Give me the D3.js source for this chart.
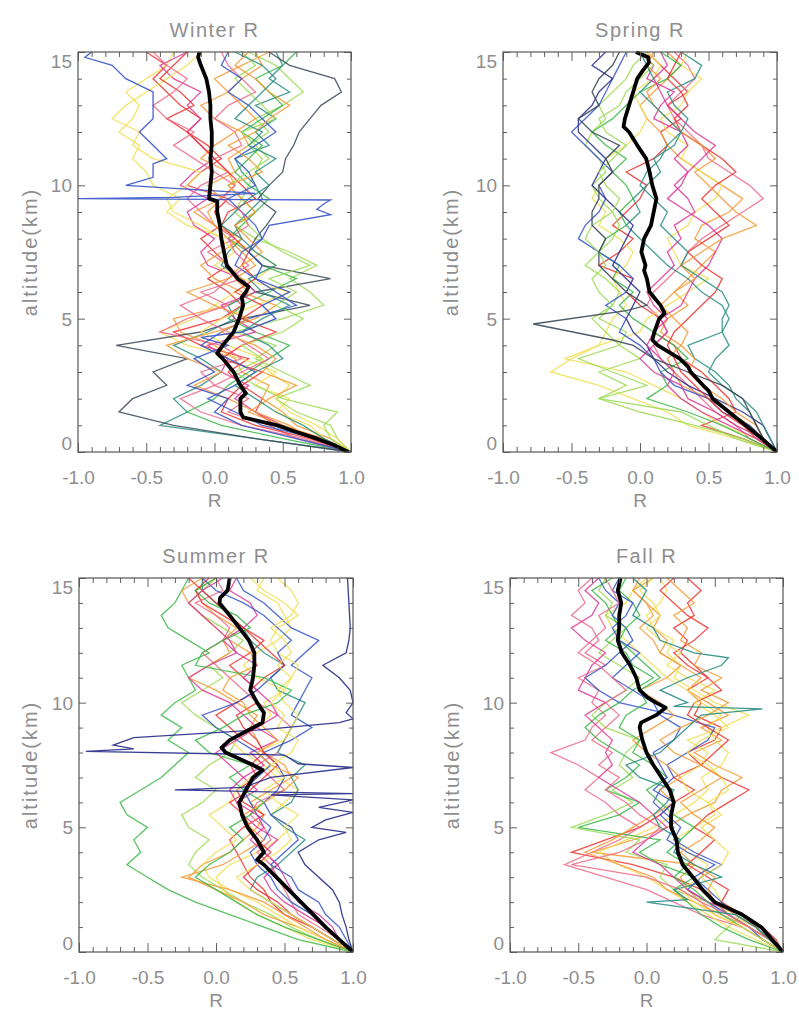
<!DOCTYPE html>
<html>
<head>
<meta charset="utf-8">
<script src="https://cdn.jsdelivr.net/npm/d3@7"></script>
<style>
body { margin: 0; background: #fff; }
</style>
</head>
<body>
<script>
// altitude grid (km) shared by the thin profiles
var alts = [0,0.5,1,1.5,2,2.5,3,3.5,4,4.5,5,5.5,6,6.5,7,7.5,8,8.5,9,9.5,10,10.5,11,11.5,12,12.5,13,13.5,14,14.5,15];

var xTicks = [-1.0, -0.5, 0.0, 0.5, 1.0];
var xMinor = [-0.9,-0.8,-0.7,-0.6,-0.4,-0.3,-0.2,-0.1,0.1,0.2,0.3,0.4,0.6,0.7,0.8,0.9];
var yTicks = [0, 5, 10, 15];
var yMinor = [1,2,3,4,6,7,8,9,11,12,13,14];

var titles = ["Winter R", "Spring R", "Summer R", "Fall R"];

//red, orange, yellow, light-green, green, teal, blue, navy, magenta, pink, slate
var palette = {red:"#ec3530", orange:"#f59a36", yellow:"#f1df55", lgreen:"#9edc56", green:"#3cb848",
               teal:"#2a8f84", blue:"#3553c8", navy:"#262a88", magenta:"#dc3a96", pink:"#ef6a8a", slate:"#3a4858"};

// ---- Winter ----
var winterColors = ["red","orange","yellow","lgreen","green","teal","slate","magenta","pink","orange","yellow","red","lgreen","blue","pink","orange","teal"];
var winterLines = [
  [1.0,0.8,0.45,0.3,0.35,0.2,0.1,0.25,-0.1,-0.3,0.05,0.2,0.1,-0.05,0.1,0.0,-0.1,0.05,0.0,0.1,-0.2,-0.1,0.05,-0.05,-0.2,-0.1,-0.25,-0.35,-0.45,-0.35,-0.5],
  [1.0,0.85,0.6,0.5,0.35,0.4,0.2,0.15,0.0,-0.25,-0.3,0.1,0.25,0.15,0.3,0.2,0.1,0.0,-0.05,0.05,-0.05,0.15,0.1,0.25,0.2,0.0,-0.1,0.1,0.2,0.35,0.3],
  [1.0,0.8,0.7,0.45,0.55,0.3,0.45,0.2,-0.2,-0.4,-0.15,0.0,0.15,0.3,0.45,0.3,0.1,-0.2,-0.35,-0.25,-0.45,-0.5,-0.6,-0.55,-0.7,-0.6,-0.55,-0.65,-0.5,-0.35,-0.3],
  [1.0,0.9,0.85,0.6,0.45,0.7,0.5,0.3,0.45,0.15,0.5,0.8,0.7,0.55,0.75,0.55,0.3,0.15,0.3,0.2,0.25,0.3,0.35,0.25,0.4,0.3,0.5,0.65,0.55,0.45,0.25],
  [1.0,0.5,0.05,-0.2,0.0,0.1,0.25,0.4,0.55,0.3,0.1,0.2,0.4,0.6,0.35,0.25,0.1,0.2,0.3,0.4,0.25,0.15,0.25,0.35,0.2,0.35,0.5,0.4,0.3,0.5,0.6],
  [1.0,0.3,-0.4,-0.2,-0.3,-0.1,0.05,-0.1,-0.3,-0.05,0.15,0.1,0.3,0.2,0.05,0.1,0.2,0.15,0.25,0.35,0.3,0.2,0.15,0.4,0.3,0.45,0.3,0.55,0.4,0.5,0.45],
  [1.0,0.3,-0.3,-0.7,-0.6,-0.35,-0.45,-0.2,-0.72,-0.1,0.2,0.7,0.3,0.85,0.35,0.25,0.3,0.38,0.45,0.32,0.4,0.5,0.52,0.58,0.62,0.7,0.78,0.93,0.88,0.55,0.4],
  [1.0,0.75,0.5,0.3,0.15,0.25,0.05,0.1,-0.05,0.3,0.15,0.05,0.3,0.2,-0.05,-0.1,0.0,-0.15,-0.2,-0.05,-0.25,-0.15,0.0,-0.1,-0.2,-0.1,-0.2,-0.1,-0.3,-0.4,-0.2],
  [1.0,0.6,0.4,0.1,0.25,0.0,-0.1,0.2,0.05,-0.4,-0.2,0.1,-0.1,0.2,0.1,-0.05,0.15,0.0,-0.1,-0.2,-0.1,0.1,0.0,0.2,0.15,0.0,0.1,0.3,0.2,0.1,0.05],
  [1.0,0.7,0.55,0.3,0.1,-0.15,0.05,-0.2,-0.35,0.0,0.3,0.45,0.2,0.0,-0.1,0.05,0.2,0.0,-0.15,0.05,0.15,0.1,-0.1,0.0,0.15,0.3,0.2,0.1,0.0,0.2,0.4],
  [1.0,0.9,0.75,0.55,0.45,0.55,0.4,0.35,0.1,-0.1,0.05,0.3,0.55,0.2,0.0,0.15,0.05,-0.1,-0.3,-0.35,-0.2,-0.1,-0.45,-0.6,-0.55,-0.75,-0.65,-0.5,-0.35,-0.2,-0.1],
  [1.0,0.7,0.3,0.05,0.1,0.2,0.35,0.05,0.2,0.45,0.2,0.35,0.15,0.3,0.2,0.25,0.15,0.05,0.1,0.3,0.2,0.1,0.0,-0.1,-0.2,-0.35,-0.15,-0.25,-0.4,-0.3,-0.2],
  [1.0,0.85,0.8,0.9,0.5,0.3,0.15,0.35,0.2,0.5,0.65,0.45,0.6,0.4,0.7,0.5,0.35,0.25,0.15,0.2,0.1,0.25,0.4,0.3,0.2,0.45,0.35,0.25,0.15,0.3,0.2],
  [1.0,0.75,0.35,0.15,-0.05,0.15,0.3,0.1,-0.1,0.05,0.25,0.6,0.45,0.3,0.15,0.2,0.35,0.3,0.2,0.1,0.3,0.25,0.15,0.3,0.45,0.35,0.25,0.1,0.2,0.05,0.1],
  [1.0,0.65,0.2,-0.1,-0.25,0.0,0.2,0.4,0.25,0.1,-0.1,-0.25,0.0,0.1,0.25,0.15,0.1,0.25,0.2,0.05,0.15,0.0,-0.15,-0.3,-0.15,-0.35,-0.45,-0.3,-0.2,-0.35,-0.45],
  [1.0,0.8,0.5,0.25,0.4,0.6,0.35,0.45,0.3,0.05,0.25,0.0,-0.2,0.1,0.2,0.35,0.25,0.15,0.3,0.2,0.1,0.35,0.25,0.1,0.3,0.4,0.55,0.4,0.3,0.15,0.25],
  [1.0,0.8,0.65,0.45,0.3,0.15,0.3,0.5,0.4,0.2,0.35,0.55,0.35,0.25,0.45,0.3,0.2,0.05,0.15,0.25,0.4,0.3,0.45,0.25,0.35,0.15,0.25,0.35,0.45,0.35,0.15]
];
// profiles with sharp excursions, as [altitude, R]
var winterSpikeColors = ["blue"];
var winterSpikes = [
  [[0,1.0],[0.5,0.6],[1,0.2],[1.5,0.0],[2,0.1],[2.5,-0.2],[3,0.0],[3.5,-0.15],[4,0.1],[4.3,-0.1],[4.5,0.2],[5,0.45],[5.5,0.35],[6,0.55],[6.5,0.3],[7,0.35],[7.5,0.25],[8,0.35],[8.5,0.4],[8.9,0.85],[9.1,0.75],[9.3,0.8],[9.45,0.85],[9.5,-1.0],[9.55,-0.3],[9.7,0.3],[10,-0.65],[10.3,-0.45],[10.8,-0.45],[11,-0.35],[11.5,-0.45],[12,-0.55],[12.5,-0.45],[13,-0.45],[13.5,-0.45],[14,-0.65],[14.5,-0.75],[14.8,-0.95],[15,-0.9]]
];
var winterMean = [[0,0.98],[0.25,0.88],[0.5,0.75],[0.75,0.6],[1,0.46],[1.3,0.21],[1.5,0.19],[2,0.19],[2.2,0.23],[2.5,0.19],[3,0.14],[3.5,0.06],[3.7,0.02],[4,0.06],[4.5,0.14],[5,0.18],[5.5,0.21],[5.8,0.2],[6,0.23],[6.2,0.25],[6.5,0.17],[7,0.09],[7.5,0.07],[8,0.05],[8.5,0.04],[9,0.02],[9.4,0.02],[9.5,-0.04],[10,-0.03],[10.5,-0.02],[11,-0.03],[11.5,-0.02],[12,-0.02],[12.5,-0.03],[13,-0.03],[13.5,-0.04],[14,-0.06],[14.5,-0.10],[14.8,-0.12],[15,-0.11]];

// ---- Spring ----
var springColors = ["red","pink","orange","yellow","yellow","lgreen","green","teal","blue","magenta","navy","red","orange","lgreen","magenta","teal"];
var springLines = [
  [1.0,0.75,0.45,0.7,0.65,0.55,0.45,0.3,0.25,0.1,0.15,0.0,-0.1,-0.05,-0.3,-0.15,-0.05,-0.2,-0.1,0.0,0.05,-0.1,0.1,0.2,0.15,0.3,0.2,0.35,0.25,0.15,0.05],
  [1.0,0.8,0.7,0.55,0.45,0.35,0.25,0.15,0.1,0.2,0.15,0.05,0.1,0.2,0.3,0.35,0.45,0.6,0.75,0.9,0.8,0.65,0.5,0.45,0.35,0.25,0.2,0.3,0.4,0.35,0.25],
  [1.0,0.9,0.8,0.65,0.5,0.3,0.25,0.2,0.3,0.15,0.2,0.35,0.25,0.35,0.45,0.55,0.4,0.45,0.65,0.75,0.6,0.45,0.3,0.2,0.15,0.05,0.0,0.1,0.2,0.3,0.2],
  [1.0,0.7,0.35,0.2,-0.05,-0.3,-0.65,-0.5,-0.3,-0.25,-0.2,-0.1,-0.15,-0.2,-0.1,-0.05,-0.15,-0.3,-0.25,-0.35,-0.3,-0.2,-0.25,-0.1,0.0,0.05,0.0,-0.05,0.1,0.15,0.05],
  [1.0,0.85,0.6,0.45,0.3,0.1,-0.1,-0.55,-0.3,0.0,0.05,0.2,0.35,0.5,0.3,0.25,0.2,0.35,0.4,0.55,0.6,0.45,0.3,0.35,0.2,0.15,0.3,0.35,0.45,0.3,0.35],
  [1.0,0.75,0.4,0.0,-0.3,-0.1,-0.3,0.0,-0.15,-0.1,-0.3,-0.2,-0.15,-0.25,-0.4,-0.3,-0.2,-0.15,-0.2,-0.3,-0.35,-0.25,-0.3,-0.4,-0.35,-0.25,-0.3,-0.2,-0.1,-0.05,0.05],
  [1.0,0.8,0.6,0.35,0.05,0.2,0.15,0.35,0.25,0.1,-0.05,-0.15,-0.05,-0.2,-0.15,-0.3,-0.25,-0.1,-0.15,-0.05,-0.1,-0.2,-0.1,-0.25,-0.35,-0.2,-0.1,0.0,0.2,0.3,0.15],
  [1.0,0.9,0.85,0.8,0.7,0.65,0.55,0.4,0.35,0.6,0.65,0.6,0.45,0.35,0.2,0.1,0.0,-0.1,0.0,-0.05,0.05,0.15,0.1,0.25,0.3,0.35,0.25,0.2,0.4,0.45,0.3],
  [1.0,0.9,0.8,0.6,0.5,0.25,0.15,0.1,0.0,-0.15,-0.1,-0.25,-0.1,-0.05,-0.15,-0.3,-0.45,-0.4,-0.3,-0.25,-0.3,-0.2,-0.3,-0.4,-0.5,-0.4,-0.3,-0.25,-0.2,-0.15,-0.1],
  [1.0,0.9,0.7,0.55,0.35,0.3,0.1,0.0,0.1,0.2,0.15,0.3,0.35,0.4,0.5,0.55,0.6,0.5,0.35,0.2,0.3,0.35,0.25,0.35,0.3,0.1,0.15,0.25,0.05,0.1,0.0],
  [1.0,0.95,0.9,0.75,0.55,0.35,0.2,0.1,0.05,-0.05,-0.1,-0.05,0.0,-0.1,-0.2,-0.15,-0.1,-0.05,-0.15,-0.25,-0.35,-0.3,-0.25,-0.35,-0.45,-0.45,-0.35,-0.3,-0.2,-0.35,-0.25],
  [1.0,0.85,0.75,0.6,0.5,0.4,0.3,0.25,0.2,0.25,0.35,0.45,0.55,0.6,0.45,0.35,0.5,0.65,0.55,0.45,0.55,0.7,0.6,0.45,0.3,0.25,0.35,0.3,0.2,0.25,0.3],
  [1.0,0.9,0.85,0.7,0.6,0.45,0.35,0.4,0.3,0.35,0.25,0.15,0.25,0.4,0.3,0.45,0.6,0.85,0.7,0.6,0.5,0.4,0.55,0.45,0.3,0.2,0.1,0.05,0.15,0.05,0.1],
  [1.0,0.7,0.5,0.3,-0.3,0.05,-0.2,-0.45,-0.15,-0.25,-0.35,-0.2,-0.3,-0.35,-0.25,-0.3,-0.4,-0.35,-0.2,-0.15,-0.25,-0.3,-0.2,-0.1,-0.25,-0.3,-0.15,-0.1,0.0,0.1,0.0],
  [1.0,0.85,0.65,0.45,0.3,0.2,0.25,0.15,0.05,0.1,0.2,0.1,0.05,0.15,0.25,0.2,0.3,0.25,0.4,0.35,0.25,0.35,0.45,0.55,0.4,0.3,0.2,0.15,0.1,0.2,0.15],
  [1.0,0.95,0.9,0.85,0.75,0.6,0.5,0.55,0.65,0.6,0.6,0.65,0.6,0.45,0.3,0.35,0.25,0.15,0.2,0.1,0.0,0.05,0.15,0.2,0.3,0.2,0.1,0.0,0.1,0.05,0.0]
];
var springSpikeColors = ["slate"];
var springSpikes = [
  [[0,1.0],[0.5,0.9],[1,0.85],[1.5,0.8],[2,0.75],[2.5,0.6],[3,0.35],[3.5,0.1],[4,-0.05],[4.2,-0.2],[4.8,-0.78],[5.3,-0.1],[5.5,0.05],[6,-0.1],[6.5,-0.2],[7,-0.3],[7.5,-0.3],[8,-0.25],[8.5,-0.35],[9,-0.35],[9.5,-0.3],[10,-0.3],[10.5,-0.2],[11,-0.25],[11.5,-0.15],[12,-0.35],[12.5,-0.45],[13,-0.3],[13.5,-0.35],[14,-0.3],[14.5,-0.2],[15,-0.15]]
];
var springMean = [[0,1.0],[0.5,0.89],[1,0.77],[1.5,0.65],[2,0.53],[2.3,0.5],[2.5,0.46],[3,0.37],[3.2,0.35],[3.5,0.29],[4,0.13],[4.2,0.09],[4.5,0.105],[5,0.14],[5.2,0.18],[5.5,0.15],[6,0.07],[6.5,0.05],[6.8,0.03],[7,0.04],[7.5,0.01],[8,0.03],[8.5,0.08],[9,0.10],[9.5,0.12],[10,0.09],[10.5,0.07],[11,0.045],[11.5,-0.02],[12,-0.08],[12.2,-0.12],[12.5,-0.11],[13,-0.08],[13.5,-0.05],[14,-0.02],[14.3,0.02],[14.6,0.065],[14.8,0.06],[15,-0.03]];

// ---- Summer ----
var summerColors = ["green","lgreen","yellow","orange","red","pink","magenta","teal","blue","yellow","blue","red","orange","green","magenta","yellow"];
var summerLines = [
  [1.0,0.6,0.35,0.1,-0.15,-0.35,-0.5,-0.65,-0.55,-0.6,-0.5,-0.65,-0.7,-0.55,-0.4,-0.3,-0.2,-0.35,-0.25,-0.4,-0.3,-0.15,-0.2,-0.25,-0.05,-0.2,-0.35,-0.4,-0.3,-0.25,-0.2],
  [1.0,0.75,0.55,0.4,0.2,0.05,-0.1,-0.2,-0.15,-0.05,-0.2,-0.25,-0.1,0.0,-0.15,-0.05,0.1,0.15,0.0,-0.15,-0.25,-0.1,0.05,-0.05,0.1,0.2,0.05,-0.1,-0.2,-0.1,0.0],
  [1.0,0.7,0.5,0.3,0.15,0.05,0.0,0.1,0.3,0.45,0.55,0.4,0.5,0.6,0.45,0.35,0.2,0.1,0.3,0.4,0.35,0.5,0.3,0.2,0.3,0.45,0.55,0.5,0.45,0.3,0.35],
  [1.0,0.8,0.6,0.35,0.2,0.0,-0.2,-0.1,0.1,0.2,0.3,0.35,0.25,0.4,0.55,0.5,0.35,0.3,0.25,0.3,0.15,0.0,-0.2,-0.05,0.1,0.05,0.15,0.0,-0.1,-0.15,0.0],
  [1.0,0.85,0.7,0.5,0.4,0.35,0.25,0.2,0.15,0.1,0.2,0.35,0.2,0.15,0.3,0.25,0.35,0.2,0.1,0.0,0.15,0.3,0.2,0.1,0.25,0.35,0.2,0.05,-0.1,-0.15,-0.05],
  [1.0,0.9,0.75,0.6,0.55,0.5,0.45,0.4,0.3,0.4,0.35,0.25,0.3,0.5,0.4,0.3,0.45,0.5,0.55,0.45,0.3,0.2,0.1,0.0,-0.1,0.05,0.1,0.0,-0.15,0.05,0.0],
  [1.0,0.9,0.85,0.75,0.6,0.55,0.5,0.45,0.35,0.45,0.3,0.2,0.15,0.3,0.2,0.35,0.25,0.45,0.3,0.2,0.1,-0.1,-0.2,-0.05,0.15,0.05,0.2,0.3,0.25,0.1,0.15],
  [1.0,0.85,0.7,0.55,0.4,0.25,0.3,0.45,0.55,0.65,0.5,0.4,0.55,0.6,0.55,0.65,0.45,0.5,0.55,0.6,0.65,0.45,0.4,0.5,0.35,0.25,0.2,0.1,0.0,-0.1,-0.1],
  [1.0,0.95,0.9,0.8,0.75,0.6,0.55,0.4,0.5,0.6,0.55,0.4,0.35,0.45,0.5,0.45,0.35,0.55,0.7,0.55,0.6,0.65,0.7,0.55,0.65,0.75,0.55,0.45,0.35,0.2,0.15],
  [1.0,0.8,0.6,0.45,0.3,0.1,-0.05,-0.1,0.0,0.15,0.05,-0.05,0.1,0.15,0.25,0.4,0.3,0.5,0.55,0.6,0.5,0.45,0.55,0.6,0.45,0.4,0.45,0.6,0.5,0.35,0.25],
  [1.0,0.9,0.8,0.7,0.55,0.45,0.4,0.3,0.25,0.35,0.4,0.3,0.25,0.2,0.3,0.4,0.3,0.15,0.0,-0.1,0.15,0.3,0.4,0.5,0.45,0.55,0.45,0.35,0.2,0.0,-0.1],
  [1.0,0.85,0.7,0.55,0.45,0.3,0.2,0.3,0.4,0.3,0.25,0.2,0.1,0.25,0.35,0.45,0.35,0.3,0.2,0.15,0.3,0.25,0.35,0.5,0.4,0.3,0.2,0.1,0.0,-0.1,-0.2],
  [1.0,0.8,0.65,0.5,0.35,0.1,-0.25,0.05,0.2,0.35,0.25,0.2,0.35,0.5,0.6,0.4,0.3,0.45,0.35,0.25,0.2,0.05,0.1,0.3,0.25,0.1,0.0,-0.1,-0.2,-0.25,-0.1],
  [1.0,0.75,0.5,0.3,0.15,0.0,-0.15,-0.05,0.1,0.2,0.1,0.25,0.35,0.2,0.1,0.25,-0.05,-0.15,0.05,0.2,0.45,0.55,0.35,-0.15,-0.1,0.05,0.25,0.15,-0.05,-0.15,0.0],
  [1.0,0.9,0.8,0.65,0.5,0.4,0.35,0.45,0.35,0.25,0.35,0.3,0.15,0.1,0.2,0.1,0.0,0.15,0.3,0.45,0.4,0.3,0.2,0.3,0.15,0.1,0.0,-0.1,-0.2,-0.1,0.05],
  [1.0,0.85,0.7,0.55,0.4,0.25,0.15,0.3,0.45,0.55,0.5,0.6,0.45,0.35,0.5,0.4,0.55,0.6,0.45,0.5,0.4,0.5,0.55,0.45,0.55,0.5,0.4,0.55,0.6,0.55,0.45]
];
var summerSpikeColors = ["navy"];
var summerSpikes = [
  [[0,1.0],[0.5,0.97],[1,0.95],[1.5,0.92],[2,0.9],[2.5,0.85],[3,0.75],[3.5,0.65],[4,0.6],[4.5,0.75],[4.8,0.95],[5,0.7],[5.3,0.8],[5.6,1.0],[5.8,0.75],[6.1,1.0],[6.3,0.4],[6.35,1.0],[6.5,-0.3],[6.6,0.2],[7,0.4],[7.4,1.0],[7.55,0.6],[7.9,0.5],[8.05,-0.95],[8.15,-0.6],[8.3,-0.75],[8.6,-0.6],[8.9,0.3],[9.2,0.9],[9.35,1.0],[9.6,0.95],[10,1.0],[10.5,0.98],[11,0.9],[11.5,0.78],[12,0.95],[12.5,0.97],[13,0.98],[14,0.97],[15,0.96]]
];
var summerMean = [[0,1.0],[0.5,0.9],[1,0.80],[1.5,0.71],[2,0.62],[2.5,0.53],[3,0.44],[3.5,0.35],[3.7,0.30],[4,0.35],[4.5,0.30],[5,0.23],[5.5,0.19],[6,0.17],[6.3,0.20],[6.5,0.22],[7,0.27],[7.3,0.34],[7.5,0.27],[8,0.07],[8.2,0.04],[8.5,0.10],[9,0.27],[9.2,0.34],[9.6,0.35],[10,0.30],[10.5,0.25],[11,0.27],[11.5,0.28],[12,0.28],[12.5,0.24],[13,0.17],[13.5,0.10],[14,0.025],[14.2,0.03],[14.5,0.085],[15,0.10]];

// ---- Fall ----
var fallColors = ["red","pink","orange","yellow","yellow","lgreen","green","blue","magenta","red","orange","green","blue","yellow","pink","orange"];
var fallLines = [
  [1.0,0.9,0.75,0.6,0.5,0.4,0.2,-0.1,-0.55,-0.3,-0.05,0.1,0.2,0.35,0.2,0.4,0.3,0.5,0.55,0.35,0.4,0.3,0.45,0.35,0.25,0.3,0.2,0.35,0.3,0.4,0.3],
  [1.0,0.85,0.7,0.4,0.2,0.0,-0.3,-0.6,-0.4,-0.2,-0.05,-0.2,-0.3,-0.45,-0.35,-0.5,-0.7,-0.45,-0.4,-0.3,-0.4,-0.35,-0.5,-0.3,-0.45,-0.35,-0.4,-0.55,-0.45,-0.5,-0.4],
  [1.0,0.85,0.7,0.5,0.4,0.3,0.25,0.35,-0.4,-0.1,0.15,0.3,0.5,0.55,0.7,0.5,0.35,0.55,0.4,0.6,0.45,0.3,0.4,0.25,0.1,0.05,-0.05,0.05,0.0,-0.1,-0.05],
  [1.0,0.8,0.6,0.45,0.3,0.15,0.0,-0.2,-0.35,-0.15,0.05,0.2,0.35,0.45,0.4,0.55,0.6,0.5,0.45,0.55,0.4,0.3,0.15,0.05,-0.05,-0.15,-0.25,-0.3,-0.15,-0.1,0.0],
  [1.0,0.9,0.8,0.6,0.55,0.5,0.4,0.45,0.3,0.2,0.35,0.5,0.45,0.3,0.25,0.4,0.45,0.3,0.55,0.75,0.5,0.35,0.2,0.25,0.15,0.2,0.05,0.0,0.1,0.15,0.1],
  [1.0,0.5,0.6,0.7,0.45,0.2,0.1,0.15,-0.15,-0.05,-0.55,-0.3,-0.1,-0.25,-0.1,-0.2,-0.15,-0.05,-0.3,-0.4,-0.3,-0.15,-0.05,-0.2,-0.35,-0.25,-0.15,-0.3,-0.25,-0.35,-0.3],
  [1.0,0.75,0.55,0.4,0.3,0.2,0.35,0.1,-0.05,0.1,-0.5,-0.2,-0.05,-0.3,-0.15,-0.05,-0.2,-0.35,-0.45,-0.35,-0.2,-0.1,0.05,-0.1,-0.15,-0.3,-0.2,-0.25,-0.3,-0.4,-0.25],
  [1.0,0.85,0.75,0.6,0.45,0.3,0.4,0.55,0.35,0.2,0.25,0.15,0.05,0.1,0.2,0.15,0.3,0.45,0.5,0.2,-0.2,-0.35,-0.45,-0.3,-0.2,-0.1,-0.15,-0.25,-0.2,-0.3,-0.35],
  [1.0,0.9,0.8,0.7,0.45,0.3,0.2,0.1,-0.1,0.0,0.15,0.05,-0.05,-0.2,-0.35,-0.25,-0.3,-0.25,-0.35,-0.45,-0.3,-0.5,-0.45,-0.4,-0.3,-0.45,-0.55,-0.4,-0.35,-0.45,-0.35],
  [1.0,0.95,0.85,0.7,0.55,0.6,0.45,0.3,0.4,0.5,0.35,0.45,0.6,0.75,0.55,0.4,0.5,0.6,0.45,0.3,0.35,0.55,0.45,0.3,0.2,0.35,0.45,0.3,0.2,0.1,0.2],
  [1.0,0.9,0.75,0.55,0.35,0.15,0.05,-0.2,-0.45,-0.25,-0.1,0.05,0.2,0.1,0.25,0.15,0.0,-0.1,0.05,0.2,0.1,-0.05,0.15,0.25,0.1,0.15,0.05,0.1,0.0,-0.1,0.05],
  [1.0,0.85,0.7,0.55,0.45,0.35,0.2,0.3,0.15,0.25,0.35,0.2,0.1,0.0,0.15,0.05,-0.1,-0.05,-0.2,-0.15,0.0,-0.05,0.1,0.0,-0.1,-0.2,-0.15,-0.05,-0.1,-0.2,-0.15],
  [1.0,0.9,0.8,0.65,0.55,0.45,0.35,0.5,0.3,0.15,0.2,0.1,0.2,0.05,0.15,0.1,0.05,0.2,0.25,0.1,0.05,-0.1,-0.25,-0.15,-0.05,-0.2,-0.25,-0.15,-0.1,-0.25,-0.2],
  [1.0,0.85,0.7,0.5,0.35,0.25,0.4,0.55,0.6,0.5,0.4,0.55,0.45,0.6,0.55,0.45,0.3,0.4,0.6,0.5,0.35,0.5,0.3,0.15,0.25,0.1,0.0,0.1,0.05,-0.05,0.05],
  [1.0,0.9,0.75,0.6,0.4,0.25,0.0,-0.55,-0.2,0.0,0.1,-0.05,-0.15,-0.3,-0.2,-0.35,-0.25,-0.4,-0.3,-0.2,-0.3,-0.15,-0.25,-0.35,-0.5,-0.4,-0.3,-0.35,-0.2,-0.25,-0.3],
  [1.0,0.9,0.8,0.65,0.5,0.45,0.5,0.35,0.25,0.4,0.5,0.35,0.25,0.4,0.55,0.4,0.2,0.1,0.25,0.45,0.6,0.4,0.55,0.35,0.4,0.25,0.3,0.2,0.35,0.25,0.15]
];
var fallSpikeColors = ["teal"];
var fallSpikes = [
  [[0,1.0],[0.5,0.9],[1,0.8],[1.5,0.65],[2,0.0],[2.1,0.3],[2.5,0.2],[3,0.55],[3.5,0.35],[4,0.2],[4.5,0.25],[5,0.1],[5.5,0.05],[6,0.15],[6.5,0.2],[7,-0.05],[7.5,-0.15],[8,0.1],[8.5,0.2],[9,0.3],[9.5,0.4],[9.75,0.85],[9.85,0.2],[10,0.3],[10.5,0.1],[11,0.3],[11.5,0.55],[11.8,0.6],[12,0.35],[12.5,0.1],[13,0.05],[13.5,-0.1],[14,-0.05],[14.5,0.0],[15,-0.1]]
];
var fallMean = [[0,1.0],[0.5,0.92],[1,0.84],[1.5,0.70],[2,0.50],[2.5,0.41],[3,0.34],[3.5,0.265],[4,0.23],[4.5,0.22],[5,0.18],[5.5,0.18],[6,0.20],[6.5,0.17],[7,0.11],[7.5,0.05],[8,0.0],[8.5,-0.03],[9,-0.05],[9.2,-0.04],[9.5,0.07],[9.8,0.14],[10,0.07],[10.2,0.01],[10.5,-0.05],[11,-0.075],[11.5,-0.12],[12,-0.18],[12.5,-0.21],[13,-0.20],[13.5,-0.20],[14,-0.185],[14.5,-0.21],[15,-0.19]];

var fontFamily = "'Liberation Sans', Arial, sans-serif";
var textColor = "#8e8e8e";

var svgContainer =
    d3.select("body")
      .append("svg")
      .attr("width", 799)
      .attr("height", 1017);

var panels = [
    {id: 0, title: titles[0], left: 78,  top: 52,  width: 273, height: 400, labelX: 30,  lines: winterLines, colors: winterColors, spikes: winterSpikes, spikeColors: winterSpikeColors, mean: winterMean},
    {id: 1, title: titles[1], left: 503, top: 52,  width: 274, height: 400, labelX: 451, lines: springLines, colors: springColors, spikes: springSpikes, spikeColors: springSpikeColors, mean: springMean},
    {id: 2, title: titles[2], left: 79,  top: 578, width: 274, height: 374, labelX: 30,  lines: summerLines, colors: summerColors, spikes: summerSpikes, spikeColors: summerSpikeColors, mean: summerMean},
    {id: 3, title: titles[3], left: 510, top: 578, width: 273, height: 374, labelX: 452, lines: fallLines, colors: fallColors, spikes: fallSpikes, spikeColors: fallSpikeColors, mean: fallMean}
];

panels.forEach(drawPanel);

function styleAxis(g) {
    g.select(".domain").remove();
    g.selectAll(".tick line").attr("stroke", "#606060").attr("stroke-width", 1);
    g.selectAll("text")
     .attr("fill", textColor)
     .attr("font-family", fontFamily)
     .attr("font-size", 19);
}

function drawPanel(p) {
    var x = d3.scaleLinear().domain([-1, 1]).range([p.left, p.left + p.width]);
    var y = d3.scaleLinear().domain([0, 15]).range([p.top + p.height, p.top]);

    svgContainer.append("clipPath")
        .attr("id", "clip" + p.id)
      .append("rect")
        .attr("x", p.left - 1)
        .attr("y", p.top - 1)
        .attr("width", p.width + 2)
        .attr("height", p.height + 2);

    var plot = svgContainer.append("g").attr("clip-path", "url(#clip" + p.id + ")");

    // thin profiles on the altitude grid
    var gridLine = d3.line()
        .x(function(d) { return x(d); })
        .y(function(d, i) { return y(alts[i]); });
    var pairLine = d3.line()
        .x(function(d) { return x(d[1]); })
        .y(function(d) { return y(d[0]); });

    p.lines.forEach(function(vals, i) {
        plot.append("path")
            .attr("d", gridLine(vals))
            .attr("fill", "none")
            .attr("stroke", palette[p.colors[i]])
            .attr("stroke-width", 1.3)
            .attr("stroke-opacity", 0.85);
    });
    p.spikes.forEach(function(pts, i) {
        plot.append("path")
            .attr("d", pairLine(pts))
            .attr("fill", "none")
            .attr("stroke", palette[p.spikeColors[i]])
            .attr("stroke-width", 1.3)
            .attr("stroke-opacity", 0.9);
    });

    // mean profile
    plot.append("path")
        .attr("d", pairLine(p.mean))
        .attr("fill", "none")
        .attr("stroke", "#000")
        .attr("stroke-width", 3.8)
        .attr("stroke-linejoin", "round");

    // box with inward ticks on all four sides
    var bottom = p.top + p.height, right = p.left + p.width;
    svgContainer.append("g").attr("transform", "translate(0," + bottom + ")")
        .call(d3.axisBottom(x).tickValues(xTicks).tickSize(-9).tickPadding(19)
              .tickFormat(function(d) { return d.toFixed(1); }))
        .call(styleAxis);
    svgContainer.append("g").attr("transform", "translate(0," + bottom + ")")
        .call(d3.axisBottom(x).tickValues(xMinor).tickSize(-5).tickFormat(""))
        .call(styleAxis);
    svgContainer.append("g").attr("transform", "translate(0," + p.top + ")")
        .call(d3.axisTop(x).tickValues(xTicks).tickSize(-9).tickFormat(""))
        .call(styleAxis);
    svgContainer.append("g").attr("transform", "translate(0," + p.top + ")")
        .call(d3.axisTop(x).tickValues(xMinor).tickSize(-5).tickFormat(""))
        .call(styleAxis);

    var leftAxis = svgContainer.append("g").attr("transform", "translate(" + p.left + ",0)")
        .call(d3.axisLeft(y).tickValues(yTicks).tickSize(-7).tickPadding(6))
        .call(styleAxis);
    // end labels sit inside the box range, like the original
    leftAxis.selectAll("text")
        .attr("dy", function(d) { return d === 15 ? "0.8em" : d === 0 ? "-0.12em" : "0.35em"; });
    svgContainer.append("g").attr("transform", "translate(" + p.left + ",0)")
        .call(d3.axisLeft(y).tickValues(yMinor).tickSize(-4).tickFormat(""))
        .call(styleAxis);
    svgContainer.append("g").attr("transform", "translate(" + right + ",0)")
        .call(d3.axisRight(y).tickValues(yTicks).tickSize(-7).tickFormat(""))
        .call(styleAxis);
    svgContainer.append("g").attr("transform", "translate(" + right + ",0)")
        .call(d3.axisRight(y).tickValues(yMinor).tickSize(-4).tickFormat(""))
        .call(styleAxis);

    svgContainer.append("rect")
        .attr("x", p.left)
        .attr("y", p.top)
        .attr("width", p.width)
        .attr("height", p.height)
        .attr("fill", "none")
        .attr("stroke", "#555")
        .attr("stroke-width", 1.2);

    // texts
    svgContainer.append("text")
        .attr("x", p.left + p.width / 2)
        .attr("y", p.top - 15)
        .attr("text-anchor", "middle")
        .attr("font-family", fontFamily)
        .attr("font-size", 20)
        .attr("letter-spacing", 1.5)
        .attr("fill", textColor)
        .text(p.title);
    svgContainer.append("text")
        .attr("x", p.left + p.width / 2)
        .attr("y", bottom + 55)
        .attr("text-anchor", "middle")
        .attr("font-family", fontFamily)
        .attr("font-size", 19)
        .attr("fill", textColor)
        .text("R");
    svgContainer.append("text")
        .attr("transform", "translate(" + (p.labelX + 7) + "," + (p.top + p.height / 2) + ") rotate(-90)")
        .attr("text-anchor", "middle")
        .attr("font-family", fontFamily)
        .attr("font-size", 20)
        .attr("letter-spacing", 2)
        .attr("fill", textColor)
        .text("altitude(km)");
}
</script>
</body>
</html>
